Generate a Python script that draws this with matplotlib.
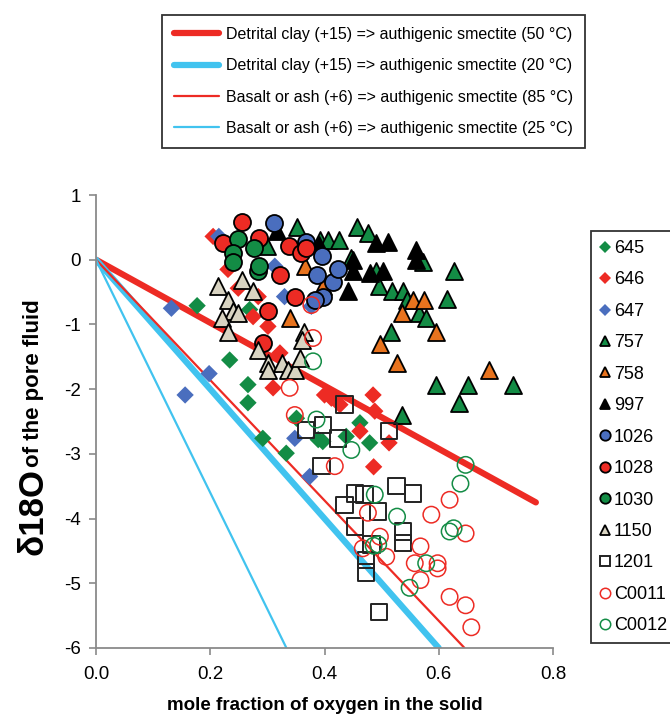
import matplotlib
matplotlib.use('Agg')
import matplotlib.pyplot as plt
from matplotlib.lines import Line2D

plt.rcParams['font.family'] = ['Liberation Sans', 'DejaVu Sans']
plt.rcParams['axes.unicode_minus'] = False

# ---- model lines (start at origin, slope = d18O per unit mole fraction) ----
line_labels = ['Detrital clay (+15) => authigenic smectite (50 °C)',
               'Detrital clay (+15) => authigenic smectite (20 °C)',
               'Basalt or ash (+6) => authigenic smectite (85 °C)',
               'Basalt or ash (+6) => authigenic smectite (25 °C)']
line_slopes = [-4.87, -10.0, -9.3, -18.0]
line_xend = [0.77, 0.60, 0.645, 0.333]

# ---- data series ----
x645 = [0.177, 0.234, 0.266, 0.266, 0.292, 0.333, 0.269, 0.397, 0.389, 0.462, 0.479, 0.438, 0.351]
y645 = [-0.71, -1.55, -1.93, -2.21, -2.76, -2.99, -0.77, -2.81, -2.78, -2.52, -2.83, -2.73, -2.45]

x646 = [0.205, 0.231, 0.249, 0.284, 0.275, 0.301, 0.322, 0.310, 0.412, 0.485, 0.488, 0.462, 0.513, 0.486, 0.427, 0.400]
y646 = [0.36, -0.15, -0.44, -0.57, -0.88, -1.03, -1.44, -1.98, -2.14, -2.09, -2.34, -2.65, -2.83, -3.20, -2.24, -2.09]

x647 = [0.132, 0.198, 0.156, 0.348, 0.374, 0.313, 0.330, 0.377, 0.215]
y647 = [-0.75, -1.76, -2.09, -2.76, -3.35, -0.10, -0.57, -0.72, 0.36]

x757 = [0.351, 0.299, 0.392, 0.406, 0.425, 0.457, 0.476, 0.447, 0.626, 0.495, 0.519, 0.538,
        0.614, 0.566, 0.578, 0.517, 0.596, 0.651, 0.730, 0.635, 0.536, 0.491, 0.572, 0.545]
y757 = [0.51, 0.21, 0.31, 0.31, 0.31, 0.51, 0.42, 0.03, -0.17, -0.41, -0.49, -0.49,
        -0.61, -0.82, -0.90, -1.11, -1.93, -1.93, -1.93, -2.22, -2.40, -0.18, -0.03, -0.62]

x758 = [0.365, 0.340, 0.555, 0.575, 0.536, 0.596, 0.497, 0.527, 0.688, 0.397]
y758 = [-0.10, -0.90, -0.62, -0.62, -0.82, -1.11, -1.31, -1.60, -1.71, -0.41]

x997 = [0.491, 0.511, 0.561, 0.561, 0.450, 0.479, 0.502, 0.441, 0.316, 0.390, 0.450]
y997 = [0.26, 0.28, 0.15, 0.00, -0.18, -0.21, -0.18, -0.49, 0.44, 0.23, 0.00]

x1026 = [0.311, 0.368, 0.395, 0.386, 0.415, 0.424, 0.397, 0.383]
y1026 = [0.57, 0.28, 0.05, -0.23, -0.34, -0.14, -0.57, -0.62]

x1028 = [0.256, 0.223, 0.286, 0.338, 0.358, 0.368, 0.322, 0.348, 0.301, 0.292]
y1028 = [0.59, 0.26, 0.34, 0.21, 0.10, 0.18, -0.23, -0.57, -0.80, -1.29]

x1030 = [0.249, 0.276, 0.240, 0.240, 0.284, 0.285]
y1030 = [0.32, 0.18, 0.10, -0.03, -0.18, -0.09]

x1150 = [0.255, 0.275, 0.214, 0.231, 0.240, 0.249, 0.220, 0.231, 0.364, 0.360, 0.284,
         0.301, 0.301, 0.325, 0.336, 0.348, 0.357]
y1150 = [-0.31, -0.49, -0.41, -0.62, -0.80, -0.82, -0.90, -1.11, -1.11, -1.24, -1.39,
         -1.60, -1.70, -1.60, -1.70, -1.70, -1.52]

x1201 = [0.435, 0.397, 0.368, 0.424, 0.513, 0.395, 0.453, 0.470, 0.526, 0.555, 0.435,
         0.494, 0.453, 0.537, 0.537, 0.482, 0.473, 0.473, 0.495]
y1201 = [-2.24, -2.55, -2.63, -2.76, -2.65, -3.19, -3.61, -3.63, -3.50, -3.61, -3.79,
         -3.89, -4.12, -4.20, -4.38, -4.40, -4.64, -4.83, -5.44]

xC0011 = [0.377, 0.380, 0.339, 0.348, 0.418, 0.619, 0.587, 0.476, 0.497, 0.467, 0.508,
          0.568, 0.558, 0.598, 0.598, 0.568, 0.647, 0.619, 0.647, 0.657]
yC0011 = [-0.70, -1.21, -1.98, -2.40, -3.19, -3.71, -3.94, -3.91, -4.28, -4.46, -4.59,
          -4.43, -4.69, -4.69, -4.77, -4.95, -4.23, -5.21, -5.34, -5.68]

xC0012 = [0.380, 0.386, 0.447, 0.647, 0.638, 0.488, 0.527, 0.619, 0.626, 0.494, 0.578, 0.549, 0.486]
yC0012 = [-1.57, -2.47, -2.94, -3.17, -3.46, -3.63, -3.97, -4.20, -4.15, -4.40, -4.69, -5.07, -4.42]

RED = '#ED2B24'
BLUE = '#41C3EF'
GREEN = '#138C45'
DBLUE = '#4A6EBE'
ORANGE = '#E8731E'
BEIGE = '#D9D4C2'

# name, xs, ys, marker, face, edge, size, lw
series = [
    ('645', x645, y645, 'D', GREEN, 'none', 78, 0),
    ('646', x646, y646, 'D', RED, 'none', 78, 0),
    ('647', x647, y647, 'D', DBLUE, 'none', 78, 0),
    ('757', x757, y757, '^', GREEN, 'black', 150, 1.3),
    ('758', x758, y758, '^', ORANGE, 'black', 150, 1.3),
    ('997', x997, y997, '^', 'black', 'black', 150, 1.3),
    ('1026', x1026, y1026, 'o', DBLUE, 'black', 150, 1.3),
    ('1028', x1028, y1028, 'o', RED, 'black', 150, 1.3),
    ('1030', x1030, y1030, 'o', GREEN, 'black', 150, 1.3),
    ('1150', x1150, y1150, '^', BEIGE, 'black', 150, 1.3),
    ('1201', x1201, y1201, 's', 'none', '#222222', 140, 1.4),
    ('C0011', xC0011, yC0011, 'o', 'none', RED, 140, 1.1),
    ('C0012', xC0012, yC0012, 'o', 'none', GREEN, 140, 1.1),
]

W, H = 670, 716
fig = plt.figure(figsize=(W / 100, H / 100), dpi=100)
ax = fig.add_axes([96 / W, 1 - 648 / H, (553 - 96) / W, (648 - 195) / H])

line_styles = [(RED, 4.5), (BLUE, 4.5), (RED, 1.6), (BLUE, 1.6)]
line_handles = []
for lab, sl, xe, (c, lw) in zip(line_labels, line_slopes, line_xend, line_styles):
    h, = ax.plot([0, xe], [0, sl * xe], color=c, lw=lw, solid_capstyle='round', zorder=2, label=lab)
    line_handles.append(h)

for name, xs, ys, mk, fc, ec, s, lw in series:
    ax.scatter(xs, ys, marker=mk, s=s, facecolors=fc, edgecolors=ec, linewidths=lw, zorder=3)

ax.set_xlim(0, 0.8)
ax.set_ylim(-6, 1)
ax.set_xticks([0.0, 0.2, 0.4, 0.6, 0.8])
ax.set_xticklabels(['0.0', '0.2', '0.4', '0.6', '0.8'])
ax.set_yticks(range(-6, 2))
for sp in ['top', 'right']:
    ax.spines[sp].set_visible(False)
for sp in ['left', 'bottom']:
    ax.spines[sp].set_color('#8a8a8a')
    ax.spines[sp].set_linewidth(1.3)
ax.tick_params(axis='both', colors='#8a8a8a', labelcolor='black', labelsize=13.5, length=5, width=1.2)
ax.tick_params(axis='x', pad=8)
ax.tick_params(axis='y', pad=6)

fig.text(325 / W, 1 - 705 / H, 'mole fraction of oxygen in the solid', ha='center', va='center',
         fontsize=13.5, fontweight='bold')
fig.text(42.5 / W, 1 - 555 / H, 'δ18O', rotation=90, rotation_mode='anchor', ha='left', va='baseline',
         fontsize=25, fontweight='bold')
fig.text(39.5 / W, 1 - 467 / H, 'of the pore fluid', rotation=90, rotation_mode='anchor', ha='left',
         va='baseline', fontsize=16, fontweight='bold')

leg1 = fig.legend(handles=line_handles, loc='upper left', bbox_to_anchor=(162 / W, 1 - 15 / H),
                  fontsize=11.5, frameon=True, fancybox=False, edgecolor='black', handlelength=2.8,
                  handletextpad=0.45, labelspacing=1.02, borderpad=0.75, borderaxespad=0)
leg1.get_frame().set_linewidth(1.3)

mk_handles = []
for name, xs, ys, mk, fc, ec, s, lw in series:
    ms = 6.5 if mk == 'D' else 7.5
    mk_handles.append(Line2D([], [], linestyle='none', marker=mk, markersize=ms, markerfacecolor=fc,
                             markeredgecolor=ec, markeredgewidth=lw if lw else 0, label=name))
leg2 = fig.legend(handles=mk_handles, loc='upper left', bbox_to_anchor=(590.5 / W, 1 - 231 / H),
                  fontsize=13, frameon=True, fancybox=False, edgecolor='black', handlelength=0.6,
                  handletextpad=0.2, labelspacing=0.8, borderpad=0.5, borderaxespad=0)
leg2.get_frame().set_linewidth(1.3)

fig.savefig('out.png', dpi=100)
